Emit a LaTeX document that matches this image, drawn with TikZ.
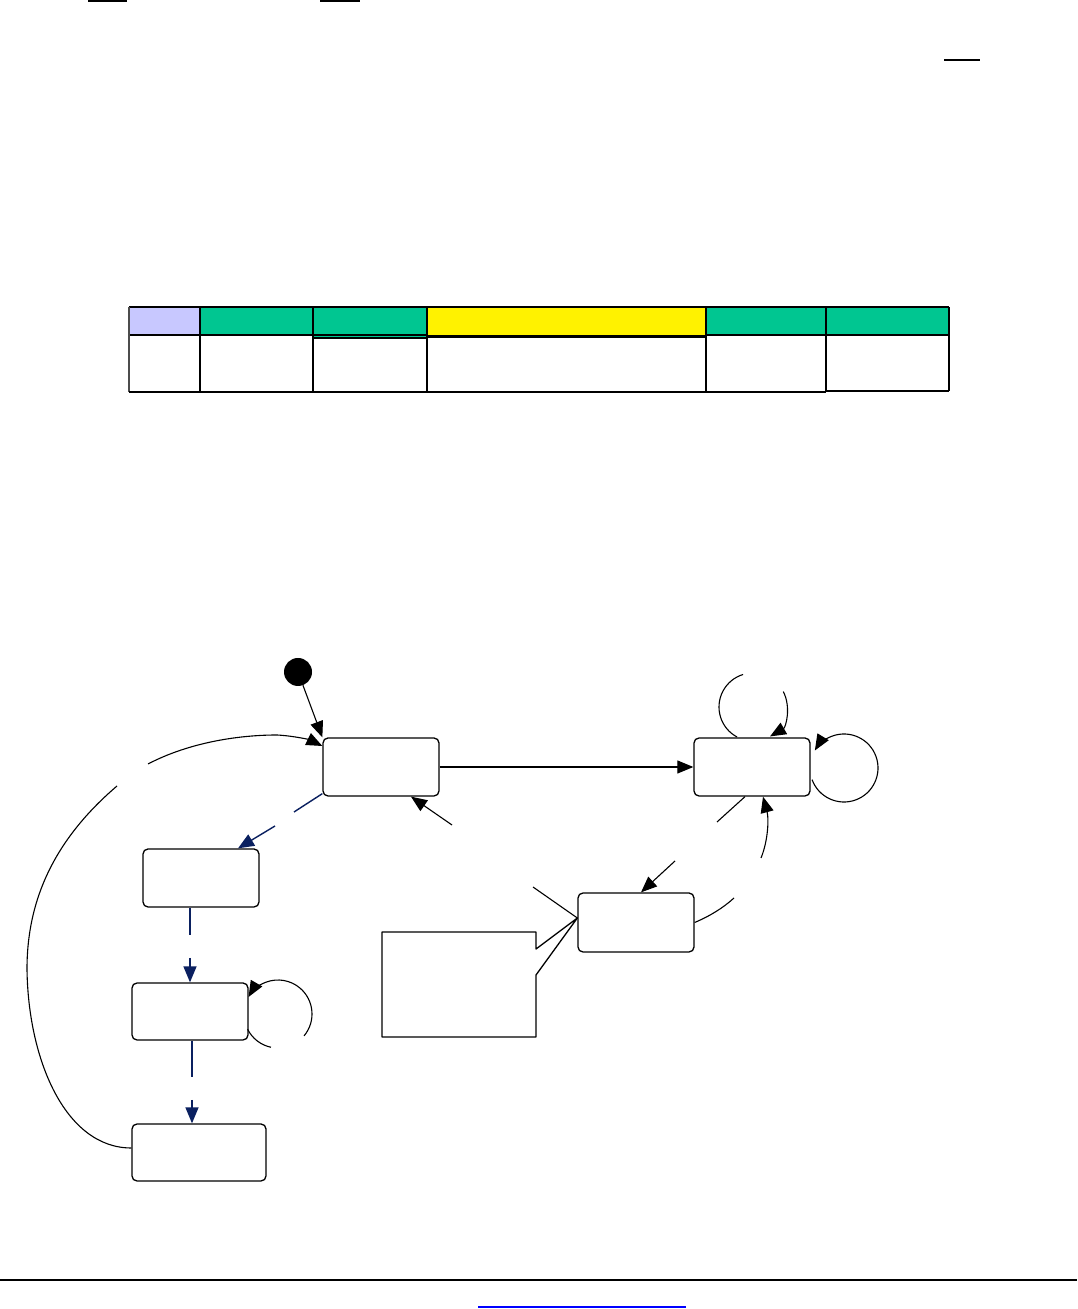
\documentclass[tikz,border=0pt]{standalone}
\usetikzlibrary{arrows.meta}
\definecolor{navy}{RGB}{10,32,96}
\definecolor{lav}{RGB}{200,200,255}
\definecolor{tealg}{RGB}{0,198,145}
\definecolor{linkblue}{RGB}{0,0,255}
\begin{document}
\begin{tikzpicture}[x=1pt,y=1pt,
  statebox/.style={draw, rounded corners=5pt, line width=1.3pt, minimum width=#1, minimum height=58pt, inner sep=0pt},
  statebox/.default=116pt,
  tip/.style={-{Triangle[length=16pt,width=13pt]}},
  conn/.style={line width=1.1pt},
  bconn/.style={line width=1.4pt, draw=navy},
  thin/.style={line width=1.2pt},
  thick2/.style={line width=2.2pt}
]
\useasboundingbox (0,0) rectangle (1077,1309);
\fill[white] (0,0) rectangle (1077,1309);

% top underlines
\draw[line width=2pt] (88,1307.5) -- (127,1307.5);
\draw[line width=2pt] (320,1307.5) -- (360,1307.5);
\draw[line width=1.6pt] (944,1249) -- (980,1249);

% table header fills
\fill[lav] (129,974) rectangle (200,1002);
\fill[tealg] (200,974) rectangle (313,1002);
\fill[tealg] (313,971) rectangle (427,1002);
\fill[yellow] (427,973) rectangle (706,1002);
\fill[tealg] (706,974) rectangle (826,1002);
\fill[tealg] (826,974) rectangle (949,1002);
% table lines
\draw[thin] (129,1002) -- (949,1002);
\draw[thin] (129,974) -- (427,974);
\draw[thin] (706,974) -- (949,974);
\draw[thin] (313,971) -- (427,971);
\draw[thin, draw=black!70] (129,917) -- (129,1002);
\draw[thin] (200,917) -- (200,1002);
\draw[thick2] (313,917) -- (313,1002);
\draw[thin] (826,918) -- (826,1002);
\draw[thin] (949,918) -- (949,1002);
\draw[thick2] (427,973) rectangle (706,1002);
\draw[thick2] (427,917) rectangle (706,972);
\draw[line width=2.6pt] (129,917) -- (826,917);
\draw[thin] (826,918) -- (949,918);

% states
\node[statebox] (A) at (381,542) {};
\node[statebox] (B) at (752,542) {};
\node[statebox, minimum height=59pt] (C) at (636,386.5) {};
\node[statebox] (D) at (201,431) {};
\node[statebox, minimum height=57pt] (F) at (190,297.5) {};
\node[statebox=134pt, minimum height=57pt] (E) at (199,156.5) {};
\node[circle, fill=black, minimum size=28pt, inner sep=0pt] (init) at (298,637) {};

% note callout
\draw[line width=1.3pt, line join=round] (382,377) -- (536,377) -- (536,360) -- ([yshift=4.5pt]C.west) -- (536,334) -- (536,272) -- (382,272) -- cycle;

% initial -> A
\draw[conn,tip] (init) -- (A.north west);
% A -> B
\draw[conn,tip] (A.east) -- (B.west);
% C -> A
\coordinate (ca1) at (533,422);
\coordinate (ca2) at (452,484);
\draw[conn] ([yshift=4.5pt]C.west) -- (ca1);
\draw[conn,tip] (ca2) -- ([xshift=30pt]A.south);
% A -> D
\coordinate (ad1) at (294,497);
\coordinate (ad2) at (275,483);
\draw[bconn] ([yshift=3pt]A.south west) -- (ad1);
\draw[bconn,tip] (ad2) -- ([xshift=37pt]D.north);
% D -> F
\coordinate (df1) at (190,374);
\coordinate (df2) at (190,351);
\draw[bconn] ([xshift=-11pt]D.south) -- (df1);
\draw[bconn,tip] (df2) -- (F.north);
% F -> E
\coordinate (fe1) at (192,232);
\coordinate (fe2) at (192,209);
\draw[bconn] ([xshift=2pt]F.south) -- (fe1);
\draw[bconn,tip] (fe2) -- ([xshift=-7pt]E.north);
% F self loop
\coordinate (floop) at (278,295);
\draw[conn] ([shift={(206.6:34)}]floop) arc[start angle=206.6, end angle=258, radius=34pt];
\draw[conn,tip] ([shift={(320:34)}]floop) arc[start angle=320, end angle=510, radius=34pt];
% B top loop
\coordinate (btop) at (753,602);
\draw[conn] ([shift={(242:34)}]btop) arc[start angle=242, end angle=107, radius=34pt];
\draw[conn,tip] ([shift={(27:34)}]btop) arc[start angle=27, end angle=-60, radius=34pt];
% B right loop
\coordinate (bright) at (844,541);
\draw[conn,tip] ([shift={(200:34)}]bright) arc[start angle=200, end angle=509, radius=34pt];
% B -> C
\coordinate (bc1) at (717,487);
\coordinate (bc2) at (675,448);
\draw[conn] ([xshift=-7pt]B.south) -- (bc1);
\draw[conn,tip] (bc2) -- ([xshift=5pt]C.north);
% C -> B
\coordinate (cb1) at (734,411);
\coordinate (cb2) at (761,451);
\draw[conn] (C.east) .. controls (710,393) and (723,401) .. (cb1);
\draw[conn,tip] (cb2) .. controls (768,468) and (769,490) .. ([xshift=11pt]B.south);
% E -> A
\coordinate (ea1) at (117,523);
\coordinate (ea2) at (148,545);
\draw[conn] ([yshift=4.5pt]E.west) .. controls (65,161) and (28,250) .. (27,340) .. controls (27,410) and (55,470) .. (ea1);
\draw[conn,tip] (ea2) .. controls (190,567) and (240,574) .. (277,574) .. controls (295,573) and (310,569) .. ([yshift=21pt]A.west);

% footer
\draw[line width=2.6pt] (0,29) -- (1077,29);
\draw[line width=1.2pt, linkblue] (478,2) -- (686,2);
\end{tikzpicture}
\end{document}
